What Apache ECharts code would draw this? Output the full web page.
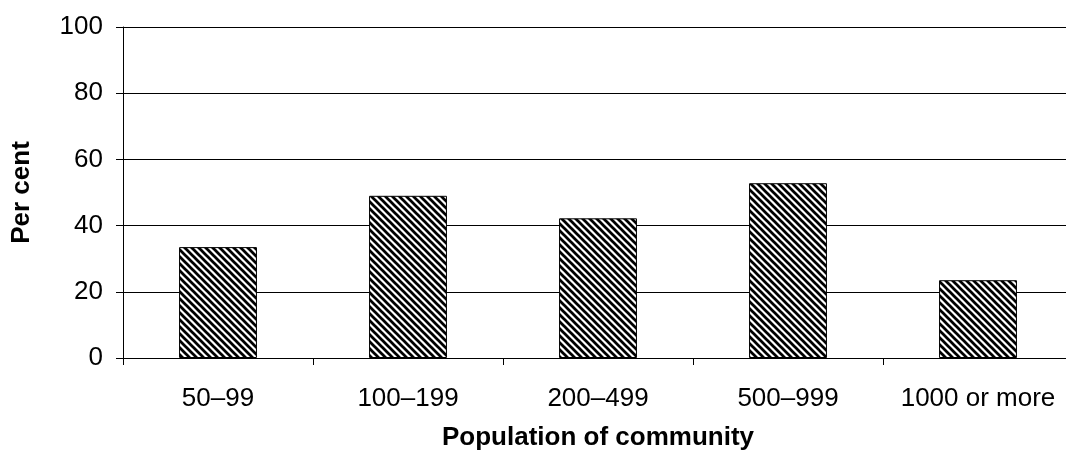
<!DOCTYPE html>
<html>
<head>
<meta charset="utf-8">
<script src="https://cdn.jsdelivr.net/npm/echarts@6/dist/echarts.min.js"></script>
<style>
  html, body { margin: 0; padding: 0; background: #fff; overflow: hidden; }
  #chart { width: 1066px; height: 454px; }
</style>
</head>
<body>
<div id="chart"></div>
<script>
// Share of communities, by community size
const categories = ['50–99', '100–199', '200–499', '500–999', '1000 or more'];
const percentValues = [33.5, 49, 42.2, 52.8, 23.5];
const yTicks = [0, 20, 40, 60, 80, 100];

// Diagonal black/white hatch used to fill the bars
function makeHatch() {
  const size = 7;
  const c = document.createElement('canvas');
  c.width = size; c.height = size;
  const ctx = c.getContext('2d');
  ctx.fillStyle = '#fff';
  ctx.fillRect(0, 0, size, size);
  ctx.strokeStyle = '#000';
  ctx.lineWidth = 2.7;
  for (let o = -size; o <= size; o += size) {
    ctx.beginPath();
    ctx.moveTo(o - 1, -1);
    ctx.lineTo(o + size + 1, size + 1);
    ctx.stroke();
  }
  return c;
}

const chart = echarts.init(document.getElementById('chart'), null, { renderer: 'canvas' });
const font = 'Liberation Sans, Arial, sans-serif';

chart.setOption({
  animation: false,
  backgroundColor: '#fff',
  // plot area runs a little past the right edge of the canvas
  grid: { left: 123, top: 27, width: 950, height: 331, containLabel: false, outerBoundsMode: 'none' },
  xAxis: {
    type: 'category',
    data: categories,
    name: 'Population of community',
    nameLocation: 'middle',
    nameGap: 67,
    nameTextStyle: { fontFamily: font, fontSize: 26, fontWeight: 'bold', color: '#000' },
    axisLine: { show: true, lineStyle: { color: '#000', width: 1 } },
    axisTick: { show: true, length: 7, lineStyle: { color: '#000' }, interval: 0 },
    axisLabel: { fontFamily: font, fontSize: 26, color: '#000', margin: 28, interval: 0 },
    splitLine: { show: false }
  },
  yAxis: {
    type: 'value',
    min: yTicks[0],
    max: yTicks[yTicks.length - 1],
    interval: 20,
    name: 'Per cent',
    nameLocation: 'middle',
    nameGap: 88,
    nameRotate: 90,
    nameTextStyle: { fontFamily: font, fontSize: 26, fontWeight: 'bold', color: '#000' },
    axisLine: { show: true, lineStyle: { color: '#000', width: 1 } },
    axisTick: { show: true, length: 7, lineStyle: { color: '#000' } },
    axisLabel: { fontFamily: font, fontSize: 26, color: '#000', margin: 20 },
    splitLine: { show: true, lineStyle: { color: '#000', width: 1 } }
  },
  series: [{
    type: 'bar',
    data: percentValues,
    barWidth: '41%',
    itemStyle: {
      color: { image: makeHatch(), repeat: 'repeat' },
      borderColor: '#000',
      borderWidth: 1
    }
  }]
});
</script>
</body>
</html>
